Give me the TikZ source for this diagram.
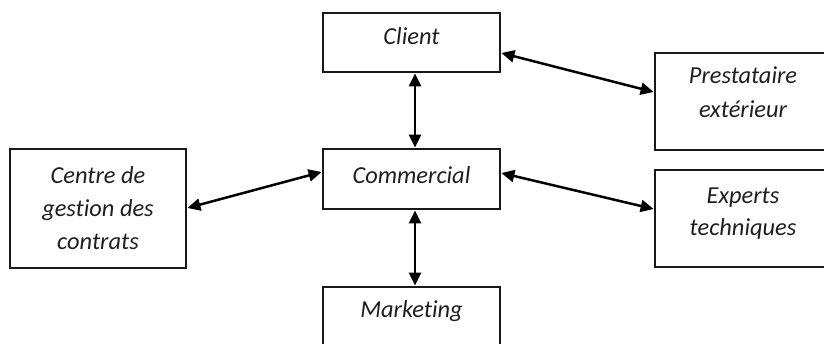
\documentclass[tikz,border=0pt]{standalone}
\usepackage{fontspec}
\setmainfont{Carlito}[Ligatures=NoCommon]
\usetikzlibrary{arrows.meta}
\begin{document}
\begin{tikzpicture}[x=1pt,y=-1pt,
  boxnode/.style={draw=black!90,line width=2.8pt,inner sep=0pt,minimum width=177pt,fill=none},
  txt/.style={anchor=base,inner sep=0pt,font=\fontsize{24.4}{33}\selectfont\itshape,text=black!88},
  link/.style={line width=2.5pt,{Triangle[length=13pt,width=12pt]}-{Triangle[length=13pt,width=12pt]}}]
\useasboundingbox (0,0) rectangle (824,343);
\node[boxnode,minimum height=59pt] (client) at (411.5,42.5) {};
\node[boxnode,minimum height=60pt] (commercial) at (411.5,179) {};
\node[boxnode,minimum height=60pt] (marketing) at (411.5,317) {};
\node[boxnode,minimum width=176pt,minimum height=119pt] (centre) at (98,208.5) {};
\node[boxnode,minimum width=176pt,minimum height=97pt] (prest) at (743,101.5) {};
\node[boxnode,minimum width=176pt,minimum height=97pt] (experts) at (743,218.5) {};
\node[txt] (tclient) at (411.5,44) {Client};
\node[txt] (tcomm) at (411.5,183) {Commercial};
\node[txt] (tmark) at (411.5,317) {Marketing};
\node[txt] (tcentre1) at (98,183) {Centre de};
\node[txt] (tcentre2) at (98,216) {gestion des};
\node[txt] (tcentre3) at (98,249) {contrats};
\node[txt] (tprest1) at (743,83) {Prestataire};
\node[txt] (tprest2) at (743,117) {extérieur};
\node[txt] (texp1) at (743,203) {Experts};
\node[txt] (texp2) at (743,235) {techniques};
\draw[link] ([xshift=3.5pt]client.south) -- ([xshift=3.5pt]commercial.north);
\draw[link] ([xshift=3.5pt]commercial.south) -- ([xshift=3.5pt]marketing.north);
\draw[link] ([yshift=-10.5pt]client.east) -- ([yshift=9.5pt]prest.west);
\draw[link] ([yshift=6pt]commercial.east) -- ([yshift=9.5pt]experts.west);
\draw[link] ([yshift=0.5pt]centre.east) -- ([yshift=7pt]commercial.west);
\end{tikzpicture}
\end{document}
